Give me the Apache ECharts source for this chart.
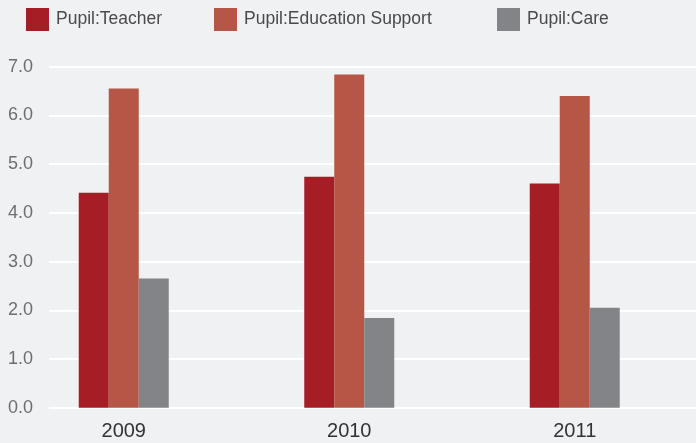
<!DOCTYPE html>
<html>
<head>
<meta charset="utf-8">
<script src="https://cdn.jsdelivr.net/npm/echarts@6/dist/echarts.min.js"></script>
<style>
html,body{margin:0;padding:0;background:#f0f1f3;}
#chart{width:696px;height:443px;}
</style>
</head>
<body>
<div id="chart"></div>
<script>
const categories = ['2009', '2010', '2011'];
const seriesNames = ['Pupil:Teacher', 'Pupil:Education Support', 'Pupil:Care'];
const teacher = [4.41, 4.74, 4.60];
const educationSupport = [6.55, 6.84, 6.40];
const care = [2.65, 1.84, 2.05];
const yTicks = [0, 1, 2, 3, 4, 5, 6, 7];

const colors = ['#a51d25', '#b65646', '#838487'];
const baseFont = "'Liberation Sans', Arial, sans-serif";
const legendLeft = [26, 214, 497];

const chart = echarts.init(document.getElementById('chart'), null, {renderer: 'canvas'});
const option = {
  backgroundColor: '#f0f1f3',
  animation: false,
  legend: seriesNames.map((n, i) => ({
    data: [n],
    left: legendLeft[i],
    top: 8,
    icon: 'rect',
    itemWidth: 23,
    itemHeight: 23,
    itemGap: 0,
    padding: 0,
    textStyle: {fontFamily: baseFont, fontSize: 17.5, color: '#4a4a4c', padding: [0, 0, 0, 2]}
  })),
  grid: [
    {left: 49, right: 0, top: 66.7, bottom: 35.3},
    {left: 11, right: 8.5, top: 66.7, bottom: 35.3}
  ],
  xAxis: [
    {gridIndex: 0, type: 'value', show: false, min: 0, max: 1},
    {
      gridIndex: 1, type: 'category', data: categories,
      axisLine: {show: false}, axisTick: {show: false},
      axisLabel: {color: '#333333', fontSize: 20, fontFamily: baseFont, margin: 14}
    }
  ],
  yAxis: [
    {
      gridIndex: 0, type: 'value', min: yTicks[0], max: yTicks[yTicks.length - 1], interval: 1,
      axisLine: {show: false}, axisTick: {show: false},
      axisLabel: {color: '#6d6e71', fontSize: 18, fontFamily: baseFont, margin: 16,
        formatter: v => v.toFixed(1)},
      splitLine: {lineStyle: {color: '#ffffff', width: 2}}
    },
    {gridIndex: 1, type: 'value', min: 0, max: 7, show: false, splitLine: {show: false}}
  ],
  series: [teacher, educationSupport, care].map((d, i) => ({
    name: seriesNames[i],
    type: 'bar',
    xAxisIndex: 1,
    yAxisIndex: 1,
    data: d,
    barWidth: 30,
    barGap: '0%',
    itemStyle: {color: colors[i]}
  }))
};
chart.setOption(option);
</script>
</body>
</html>
